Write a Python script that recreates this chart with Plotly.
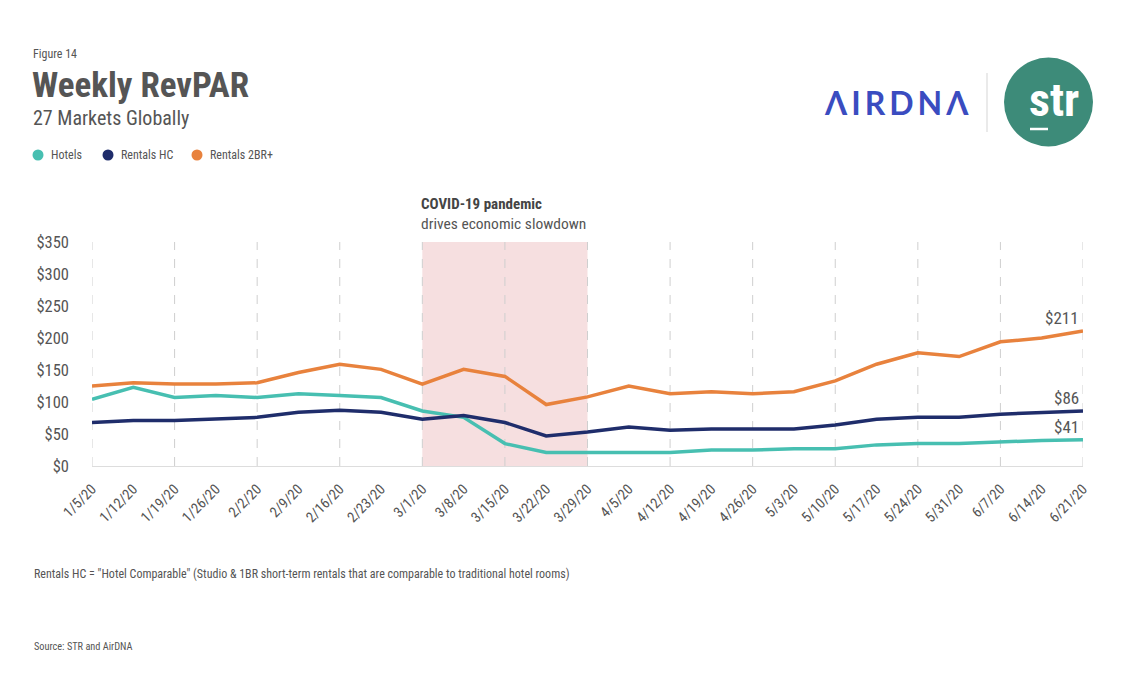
import plotly.graph_objects as go

# data
weeks = ["1/5/20", "1/12/20", "1/19/20", "1/26/20", "2/2/20", "2/9/20", "2/16/20",
         "2/23/20", "3/1/20", "3/8/20", "3/15/20", "3/22/20", "3/29/20", "4/5/20",
         "4/12/20", "4/19/20", "4/26/20", "5/3/20", "5/10/20", "5/17/20", "5/24/20",
         "5/31/20", "6/7/20", "6/14/20", "6/21/20"]

hotels = [104, 123, 107, 110, 107, 113, 110, 107, 86, 76, 35, 21, 21, 21,
          21, 25, 25, 27, 27, 33, 35, 35, 38, 40, 41]
rentals_hc = [68, 71, 71, 74, 76, 84, 87, 84, 73, 79, 68, 47, 53, 61,
              56, 58, 58, 58, 64, 73, 76, 76, 81, 84, 86]
rentals_2br = [125, 130, 128, 128, 130, 146, 159, 151, 128, 151, 140, 96, 108, 125,
               113, 116, 113, 116, 133, 159, 177, 171, 194, 200, 211]

y_ticks = [0, 50, 100, 150, 200, 250, 300, 350]
covid_start, covid_end = "3/1/20", "3/29/20"

FONT = "Liberation Sans Narrow, Roboto Condensed, DejaVu Sans Condensed, Arial Narrow, sans-serif"
GREY = "#555555"

# the page puts the figure 8px in from the top-left corner
OFF = 8
L, T, R, B = 92 - OFF, 242 - OFF, 1083 - OFF, 466 - OFF
PW, PH = R - L, B - T


def px(x):
    return (x - OFF - L) / PW


def py(y):
    return (B - (y - OFF)) / PH


series = [
    ("Hotels", hotels, "#47bfb1"),
    ("Rentals HC", rentals_hc, "#1f2d6b"),
    ("Rentals 2BR+", rentals_2br, "#e8823d"),
]

fig = go.Figure()

for name, vals, color in series:
    fig.add_trace(go.Scatter(
        x=weeks, y=vals, name=name, mode="lines",
        line=dict(color=color, width=3.5),
        showlegend=False,
    ))

# end-of-line value labels
for name, vals, color in series:
    fig.add_annotation(
        x=weeks[-1], y=vals[-1], text=f"${vals[-1]}", showarrow=False,
        xanchor="right", yanchor="bottom", yshift=1, xshift=-2,
        font=dict(family=FONT, size=17, color=GREY),
    )

# covid shaded band
fig.add_shape(type="rect", xref="x", yref="y", x0=covid_start, x1=covid_end,
              y0=0, y1=355, fillcolor="#f6dfe0", line_width=0, layer="below")

# dashed vertical guides every two weeks
for w in weeks[::2]:
    fig.add_shape(type="line", xref="x", yref="y", x0=w, x1=w, y0=0, y1=350,
                  line=dict(color="#cfcfcf", width=1, dash="dash"), layer="below")

fig.add_annotation(x=covid_start, y=py(204), xref="x", yref="paper", xanchor="left",
                   yanchor="middle", xshift=-3, text="<b>COVID-19 pandemic</b>",
                   showarrow=False, font=dict(family=FONT, size=15, color="#444444"))
fig.add_annotation(x=covid_start, y=py(224), xref="x", yref="paper", xanchor="left",
                   yanchor="middle", xshift=-3, text="drives economic slowdown",
                   showarrow=False, font=dict(family=FONT, size=15.5, color=GREY))


def txt(x, y, text, size, color=GREY, bold=False, anchor="left", family=FONT):
    fig.add_annotation(
        x=px(x), y=py(y), xref="paper", yref="paper",
        text=f"<b>{text}</b>" if bold else text,
        showarrow=False, xanchor=anchor, yanchor="middle",
        font=dict(family=family, size=size, color=color),
    )


def dot(x, y, d, color):
    fig.add_shape(type="circle", xref="paper", yref="paper",
                  xsizemode="pixel", ysizemode="pixel",
                  xanchor=px(x), yanchor=py(y),
                  x0=-d / 2, x1=d / 2, y0=-d / 2, y1=d / 2,
                  fillcolor=color, line_width=0)


txt(31, 54, "Figure 14", 12)
txt(30, 85, "Weekly RevPAR", 35, bold=True)
txt(31, 118, "27 Markets Globally", 20)

legend_x = [38, 108, 197]
for (name, vals, color), lx in zip(series, legend_x):
    dot(lx, 155, 11, color)
    txt(lx + 11, 155, name, 12)

txt(32, 574, 'Rentals HC = "Hotel Comparable" (Studio &amp; 1BR short-term rentals '
    'that are comparable to traditional hotel rooms)', 12)
txt(32, 646, "Source: STR and AirDNA", 10.3)

# logos
txt(896, 102, "\u2009".join("\u039bIRD\u039d\u039b"), 32, color="#3a4cc0", bold=True,
    anchor="center", family="Lato, Inter, sans-serif")
fig.add_shape(type="line", xref="paper", yref="paper", x0=px(987), x1=px(987),
              y0=py(73), y1=py(132), line=dict(color="#e3e3e3", width=1.5))
dot(1048.5, 102, 89, "#3d8b79")
txt(1054, 100, "str", 46, color="white", bold=True, anchor="center")
fig.add_shape(type="line", xref="paper", yref="paper", x0=px(1030), x1=px(1048),
              y0=py(129), y1=py(129), line=dict(color="white", width=2.5))

fig.update_layout(
    width=1128, height=682,
    margin=dict(l=L, r=1128 - R, t=T, b=682 - B),
    plot_bgcolor="white", paper_bgcolor="white",
    font=dict(family=FONT, color=GREY),
    showlegend=False,
    xaxis=dict(
        type="category", range=[0, len(weeks) - 1], showgrid=False,
        tickangle=-45, tickfont=dict(family=FONT, size=14.5, color=GREY),
        ticklabelstandoff=8,
        showline=True, linecolor="#dddddd", linewidth=1, ticks="", zeroline=False,
    ),
    yaxis=dict(
        range=[0, 350], tickvals=y_ticks, ticktext=[f"${v}" for v in y_ticks],
        showgrid=False, zeroline=False, showline=False, ticks="",
        ticklabelstandoff=22, tickfont=dict(family=FONT, size=16.5, color=GREY),
    ),
)

fig.write_html("out.html")
